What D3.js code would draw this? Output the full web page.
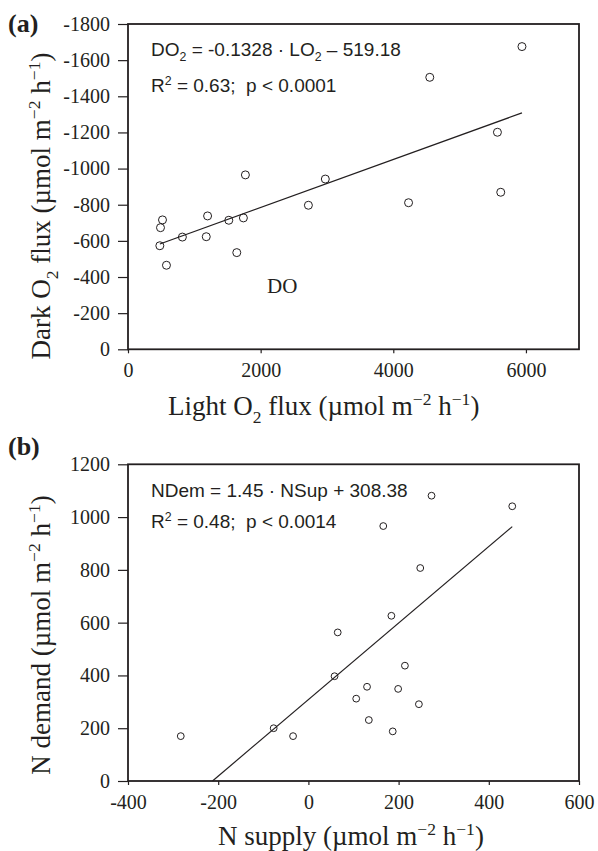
<!DOCTYPE html>
<html>
<head>
<meta charset="utf-8">
<script src="https://cdn.jsdelivr.net/npm/d3@7"></script>
<style>
  body { margin: 0; background: #fff; }
  svg { display: block; }
  text { white-space: pre; }
</style>
</head>
<body>
<div id="chart"></div>
<script>
// panel (a): light vs dark O2 flux
var lightO2 = [5940, 4550, 5570, 1770, 2975, 5620, 4230, 2720, 520, 490, 480, 580, 820, 1200, 1180, 1520, 1740, 1640];
var darkO2 = [-1675, -1505, -1201, -965, -942, -869, -811, -797, -716, -673, -573, -465, -621, -738, -623, -714, -727, -535];
var fitA = {slope: -0.1328, intercept: -519.18};
var ticksAx = [0, 2000, 4000, 6000];
var ticksAy = [0, -200, -400, -600, -800, -1000, -1200, -1400, -1600, -1800];

// panel (b): N supply vs N demand
var nSupply = [273, 452, 166, 248, 184, 65, 58, 214, 130, 106, 199, 245, 134, 187, -34, -283, -77];
var nDemand = [1081, 1041, 966, 807, 626, 563, 397, 437, 357, 312, 349, 291, 231, 188, 170, 170, 200];
var fitB = {slope: 1.45, intercept: 308.38};
var ticksBx = [-400, -200, 0, 200, 400, 600];
var ticksBy = [0, 200, 400, 600, 800, 1000, 1200];

var ink = "#231f20";
var serif = "'Liberation Serif', 'Times New Roman', serif";
var sans = "'Liberation Sans', Arial, sans-serif";

var svg = d3.select("#chart").append("svg")
    .attr("width", 598)
    .attr("height", 851);

// writes a list of text pieces, sub / sup pieces get a baseline shift
function rich(textSel, parts, size) {
    parts.forEach(function(p) {
        var ts = textSel.append("tspan").text(p.t);
        if (p.sub) {
            ts.style("font-size", (size * 0.65) + "px").attr("baseline-shift", -size * 0.28);
        } else if (p.sup) {
            ts.style("font-size", (size * 0.65) + "px").attr("baseline-shift", size * 0.38);
        }
    });
}

function drawPanel(opt) {
    var x = d3.scaleLinear().domain(opt.xDomain).range([opt.left, opt.right]);
    var y = d3.scaleLinear().domain(opt.yDomain).range([opt.bottom, opt.top]);

    var g = svg.append("g");

    // left axis
    var ya = g.append("g")
        .attr("transform", "translate(" + opt.left + ",0)")
        .call(d3.axisLeft(y).tickValues(opt.yTicks).tickSize(10).tickPadding(8)
            .tickFormat(function(d) { return String(d); }));
    // bottom axis
    var xa = g.append("g")
        .attr("transform", "translate(0," + opt.bottom + ")")
        .call(d3.axisBottom(x).tickValues(opt.xTicks).tickSize(4).tickPadding(10)
            .tickFormat(function(d) { return String(d); }));

    [ya, xa].forEach(function(a) {
        a.attr("font-family", null).attr("font-size", null);
        a.select(".domain").remove();
        a.selectAll(".tick line").attr("stroke", ink).attr("stroke-width", 1.2);
        a.selectAll(".tick text")
            .attr("fill", ink)
            .style("font-family", serif)
            .style("font-size", "20px");
    });

    // frame
    g.append("rect")
        .attr("x", opt.left)
        .attr("y", opt.top)
        .attr("width", opt.right - opt.left)
        .attr("height", opt.bottom - opt.top)
        .attr("fill", "none")
        .attr("stroke", ink)
        .attr("stroke-width", 1.8);

    // regression line
    var fx0 = opt.fitStart, fx1 = d3.max(opt.xs);
    g.append("line")
        .attr("x1", x(fx0)).attr("y1", y(opt.fit.slope * fx0 + opt.fit.intercept))
        .attr("x2", x(fx1)).attr("y2", y(opt.fit.slope * fx1 + opt.fit.intercept))
        .attr("stroke", ink)
        .attr("stroke-width", 1.2);

    // points
    g.selectAll(".pt")
        .data(opt.xs.map(function(v, i) { return [v, opt.ys[i]]; }))
        .enter().append("circle")
        .attr("class", "pt")
        .attr("cx", function(d) { return x(d[0]); })
        .attr("cy", function(d) { return y(d[1]); })
        .attr("r", opt.r)
        .attr("fill", "none")
        .attr("stroke", ink)
        .attr("stroke-width", 1);

    // equation lines
    opt.eq.forEach(function(line, i) {
        var t = g.append("text")
            .attr("x", 151)
            .attr("y", opt.eqY[i])
            .attr("fill", ink)
            .style("font-family", sans)
            .style("font-size", "19px");
        rich(t, line, 19);
    });

    // panel letter
    g.append("text")
        .attr("x", 8)
        .attr("y", opt.labelY)
        .attr("fill", ink)
        .style("font-family", serif)
        .style("font-weight", "bold")
        .style("font-size", "26px")
        .text(opt.label);

    // axis titles
    var xt = g.append("text")
        .attr("x", opt.xTitleX)
        .attr("y", opt.xTitleY)
        .attr("fill", ink)
        .style("font-family", serif)
        .style("font-size", "27px");
    rich(xt, opt.xTitle, 27);

    var yt = g.append("text")
        .attr("transform", "translate(50," + opt.yTitleC + ") rotate(-90)")
        .attr("text-anchor", "middle")
        .attr("fill", ink)
        .style("font-family", serif)
        .style("font-size", "27px");
    rich(yt, opt.yTitle, 27);

    return {g: g, x: x, y: y};
}

var unit = [{t: " (\u00b5mol m"}, {t: "\u22122", sup: true}, {t: " h"}, {t: "\u22121", sup: true}, {t: ")"}];

var pa = drawPanel({
    left: 128, right: 579, top: 24, bottom: 349.3,
    xDomain: [0, 6800], yDomain: [0, -1800],
    xTicks: ticksAx, yTicks: ticksAy,
    xs: lightO2, ys: darkO2, r: 4,
    fit: fitA, fitStart: d3.min(lightO2),
    eq: [
        [{t: "DO"}, {t: "2", sub: true}, {t: " = -0.1328 \u00b7 LO"}, {t: "2", sub: true}, {t: " \u2013 519.18"}],
        [{t: "R"}, {t: "2", sup: true}, {t: " = 0.63;  p < 0.0001"}]
    ],
    eqY: [56, 92],
    label: "(a)", labelY: 32,
    xTitle: [{t: "Light O"}, {t: "2", sub: true}, {t: " flux"}].concat(unit),
    xTitleX: 168, xTitleY: 415,
    yTitle: [{t: "Dark O"}, {t: "2", sub: true}, {t: " flux"}].concat(unit),
    yTitleC: 206
});

// "DO" tag inside panel (a)
pa.g.append("text")
    .attr("x", 267)
    .attr("y", 293)
    .attr("fill", ink)
    .style("font-family", serif)
    .style("font-size", "21px")
    .text("DO");

drawPanel({
    left: 128, right: 579, top: 464.3, bottom: 781,
    xDomain: [-400, 600], yDomain: [0, 1200],
    xTicks: ticksBx, yTicks: ticksBy,
    xs: nSupply, ys: nDemand, r: 3.4,
    fit: fitB, fitStart: -fitB.intercept / fitB.slope,
    eq: [
        [{t: "NDem = 1.45 \u00b7 NSup + 308.38"}],
        [{t: "R"}, {t: "2", sup: true}, {t: " = 0.48;  p < 0.0014"}]
    ],
    eqY: [497, 528],
    label: "(b)", labelY: 455,
    xTitle: [{t: "N supply"}].concat(unit),
    xTitleX: 218, xTitleY: 845,
    yTitle: [{t: "N demand"}].concat(unit),
    yTitleC: 635
});
</script>
</body>
</html>
